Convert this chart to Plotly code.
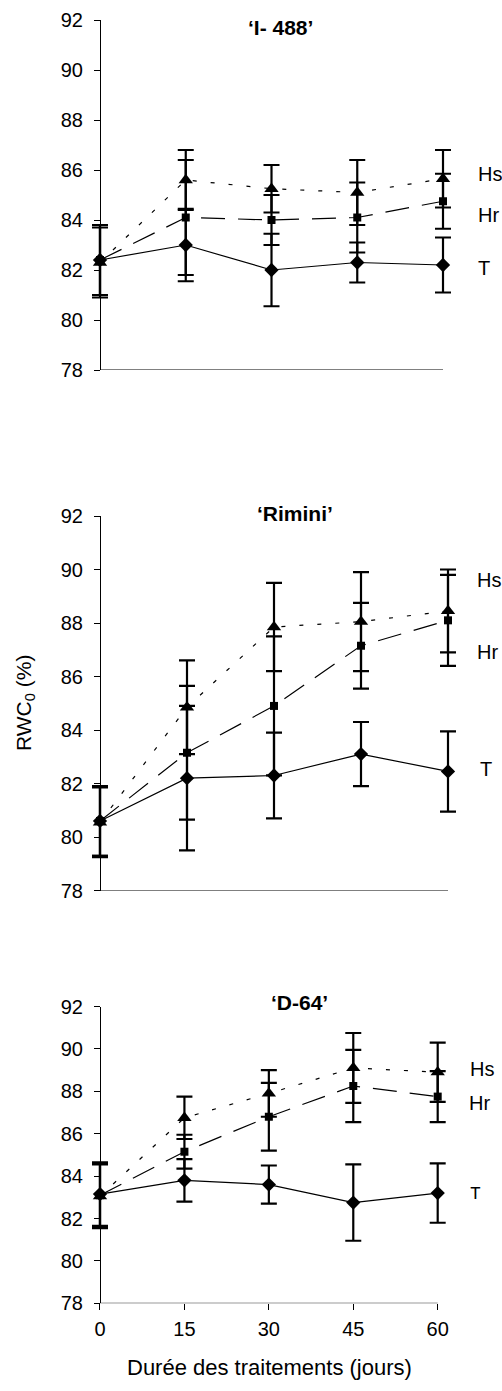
import plotly.graph_objects as go

W, H = 502, 1391

days = [0, 15, 30, 45, 60]
x_ticks = [0, 15, 30, 45, 60]
y_ticks = [78, 80, 82, 84, 86, 88, 90, 92]

titles = ["\u2018I- 488\u2019", "\u2018Rimini\u2019", "\u2018D-64\u2019"]
series_names = ["T", "Hr", "Hs"]

# Panel 1: 'I- 488'
p1_T = [82.4, 83.0, 82.0, 82.3, 82.2]
p1_T_err = [1.4, 1.45, 1.45, 0.8, 1.1]
p1_Hr = [82.4, 84.1, 84.0, 84.1, 84.75]
p1_Hr_err = [1.4, 2.3, 1.0, 1.4, 1.1]
p1_Hs = [82.3, 85.6, 85.25, 85.1, 85.65]
p1_Hs_err = [1.4, 1.2, 0.95, 1.3, 1.15]

# Panel 2: 'Rimini'
p2_T = [80.6, 82.2, 82.3, 83.1, 82.45]
p2_T_err = [1.3, 2.7, 1.6, 1.2, 1.5]
p2_Hr = [80.6, 83.15, 84.9, 87.15, 88.1]
p2_Hr_err = [1.3, 2.5, 2.6, 1.6, 1.7]
p2_Hs = [80.55, 84.85, 87.85, 88.05, 88.45]
p2_Hs_err = [1.3, 1.75, 1.65, 1.85, 1.55]

# Panel 3: 'D-64'
p3_T = [83.15, 83.8, 83.6, 82.75, 83.2]
p3_T_err = [1.5, 1.0, 0.9, 1.8, 1.4]
p3_Hr = [83.1, 85.15, 86.8, 88.25, 87.75]
p3_Hr_err = [1.5, 0.8, 1.6, 1.7, 1.2]
p3_Hs = [83.05, 86.75, 87.9, 89.1, 88.9]
p3_Hs_err = [1.5, 1.0, 1.1, 1.65, 1.4]

# label y-positions (data units) for series names at right
p1_lab_y = [82.1, 84.2, 85.85]
p2_lab_y = [82.55, 86.9, 89.6]
p3_lab_y = [83.17, 87.43, 89.04]

def px_x(v):
    return v / W

def px_y(v):
    return 1 - v / H

# pixel geometry of each panel: (x of day 0, x of day 60, y of 92, y of 78)
geom = [
    (100, 443, 20, 370),
    (100, 448, 516, 890.5),
    (100, 437.7, 1006.5, 1303.3),
]

panels = [
    (p1_T, p1_T_err, p1_Hr, p1_Hr_err, p1_Hs, p1_Hs_err, p1_lab_y),
    (p2_T, p2_T_err, p2_Hr, p2_Hr_err, p2_Hs, p2_Hs_err, p2_lab_y),
    (p3_T, p3_T_err, p3_Hr, p3_Hr_err, p3_Hs, p3_Hs_err, p3_lab_y),
]

styles = {
    "T": dict(symbol="diamond", size=11, dash="solid"),
    "Hr": dict(symbol="square", size=8, dash="24px,13px"),
    "Hs": dict(symbol="triangle-up", size=12.5, dash="4px,14px"),
}

fig = go.Figure()
FONT = "Liberation Sans, Arial, sans-serif"

for i, (T, Te, Hr, Hre, Hs, Hse, laby) in enumerate(panels):
    xa = "x" if i == 0 else f"x{i+1}"
    ya = "y" if i == 0 else f"y{i+1}"
    for name, vals, errs in [("T", T, Te), ("Hr", Hr, Hre), ("Hs", Hs, Hse)]:
        st = styles[name]
        fig.add_trace(go.Scatter(
            x=days, y=vals, mode="lines+markers", name=name, showlegend=False,
            xaxis=xa, yaxis=ya, cliponaxis=False,
            line=dict(color="black", width=1.2, dash=st["dash"]),
            marker=dict(symbol=st["symbol"], size=st["size"], color="black",
                        line=dict(width=0)),
            error_y=dict(type="data", array=errs, visible=True, color="black",
                         thickness=2.2, width=8),
        ))

layout = dict(
    width=W, height=H,
    margin=dict(l=0, r=0, t=0, b=0),
    paper_bgcolor="white", plot_bgcolor="rgba(0,0,0,0)",
    font=dict(family=FONT, size=20, color="black"),
    showlegend=False,
)

annotations = []
shapes = []
lab_x = [[476, 476, 476], [478, 475, 475], [468, 467, 468]]
title_pos = [(280, 27), (295, 513), (299, 1002)]
PAD = 4  # days of padding so that error-bar caps at 0 and 60 are not clipped

for i, (xl, xr, yt, yb) in enumerate(geom):
    sx = "xaxis" if i == 0 else f"xaxis{i+1}"
    sy = "yaxis" if i == 0 else f"yaxis{i+1}"
    ya = "y" if i == 0 else f"y{i+1}"
    xa_name = "x" if i == 0 else f"x{i+1}"
    last = (i == 2)
    ppd = (xr - xl) / 60.0
    layout[sx] = dict(
        domain=[px_x(xl - PAD * ppd), px_x(xr + PAD * ppd)],
        range=[-PAD, 60 + PAD], anchor=ya,
        showline=False, showgrid=False, zeroline=False, automargin=False,
        ticks="outside" if last else "", ticklen=6, tickcolor="black", tickwidth=1,
        tickvals=x_ticks, showticklabels=last, ticklabelstandoff=2,
        tickfont=dict(size=20, family=FONT, color="black"),
        fixedrange=True,
    )
    layout[sy] = dict(
        domain=[px_y(yb), px_y(yt)], range=[78, 92], anchor="free",
        position=px_x(xl), overlaying=None,
        showline=True, linecolor="black", linewidth=1,
        showgrid=False, zeroline=False, automargin=False,
        ticks="outside", ticklen=6, tickcolor="black", tickwidth=1,
        tickvals=y_ticks, ticklabelstandoff=7,
        tickfont=dict(size=20, family=FONT, color="black"),
        fixedrange=True,
    )
    # x-axis baseline from day 0 to day 60
    shapes.append(dict(
        type="line", xref=xa_name, yref=ya, x0=0, x1=60, y0=78, y1=78,
        line=dict(color="black", width=1), layer="below",
    ))
    tx, ty = title_pos[i]
    annotations.append(dict(
        text="<b>" + titles[i] + "</b>", xref="paper", yref="paper",
        x=px_x(tx), y=px_y(ty), xanchor="center", yanchor="middle",
        showarrow=False, font=dict(size=21, family=FONT, color="black"),
    ))
    panel_lab_y = panels[i][6]
    for k, nm in enumerate(series_names):
        fnt = dict(size=20, family=FONT, color="black")
        if last and nm == "T":
            fnt = dict(size=18, family="Liberation Mono, Courier New, monospace", color="black")
        annotations.append(dict(
            text=nm, xref="paper", yref=ya,
            x=px_x(lab_x[i][k]), y=panel_lab_y[k],
            xanchor="left", yanchor="middle", showarrow=False, font=fnt,
        ))

annotations.append(dict(
    text="RWC<sub>0</sub> (%)", xref="paper", yref="paper",
    x=px_x(25), y=px_y(703), xanchor="center", yanchor="middle",
    textangle=-90, showarrow=False, font=dict(size=21, family=FONT, color="black"),
))
annotations.append(dict(
    text="Durée des traitements (jours)", xref="paper", yref="paper",
    x=px_x(269), y=px_y(1367), xanchor="center", yanchor="middle",
    showarrow=False, font=dict(size=22, family=FONT, color="black"),
))

layout["annotations"] = annotations
layout["shapes"] = shapes
fig.update_layout(**layout)

fig.write_html(
    "out.html",
    config={"displayModeBar": False},
    post_script="document.body.style.margin='0';document.body.style.overflow='hidden';",
)
